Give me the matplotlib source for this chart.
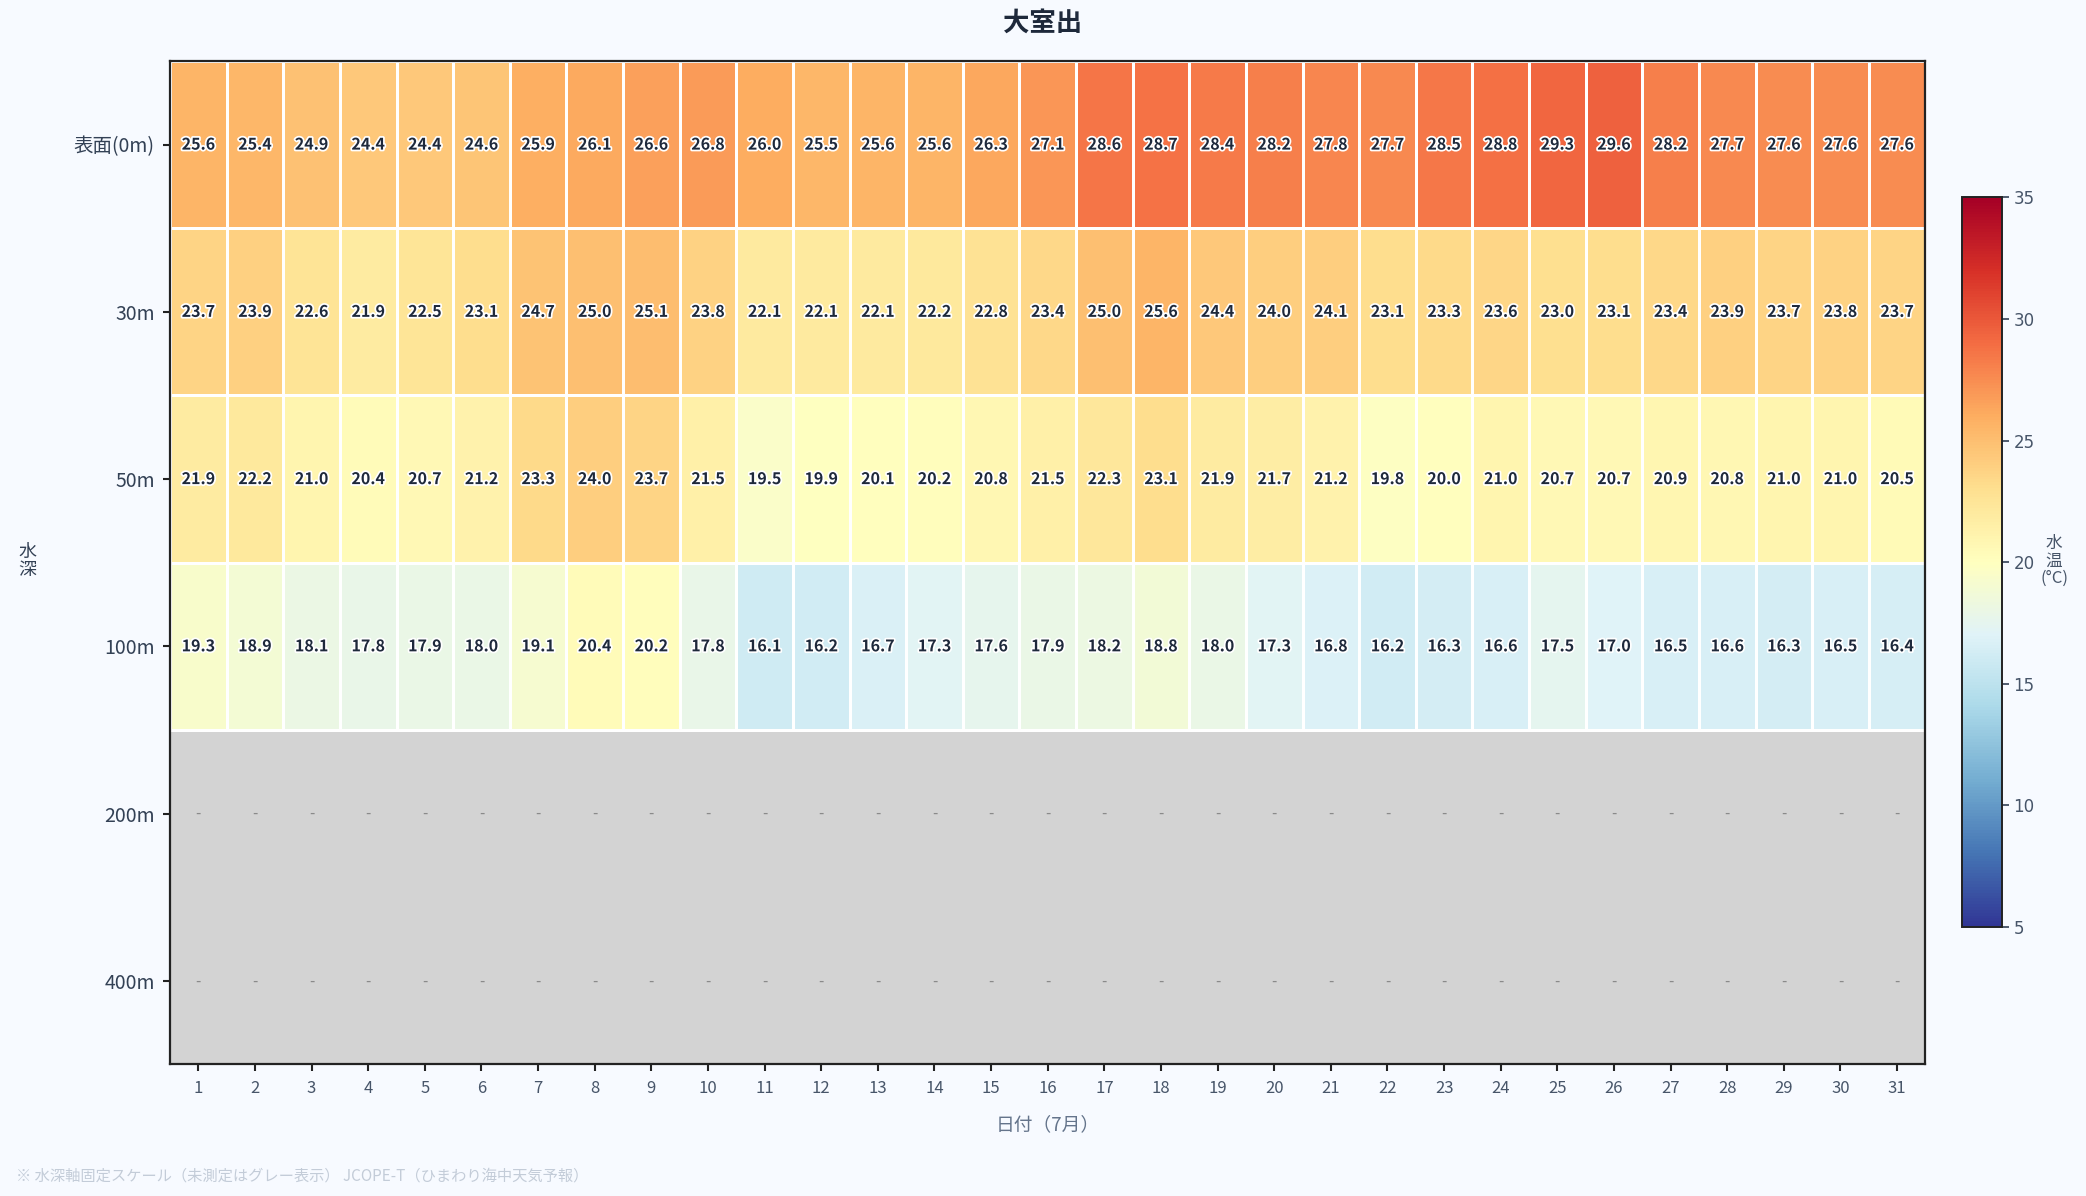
import matplotlib
matplotlib.use("Agg")
import matplotlib.pyplot as plt
import matplotlib.patheffects as pe
import numpy as np

plt.rcParams["font.family"] = ["Noto Sans CJK JP", "DejaVu Sans"]

days = list(range(1, 32))
depth_labels = ["表面(0m)", "30m", "50m", "100m", "200m", "400m"]

temp_0m = [25.6, 25.4, 24.9, 24.4, 24.4, 24.6, 25.9, 26.1, 26.6, 26.8,
           26.0, 25.5, 25.6, 25.6, 26.3, 27.1, 28.6, 28.7, 28.4, 28.2,
           27.8, 27.7, 28.5, 28.8, 29.3, 29.6, 28.2, 27.7, 27.6, 27.6, 27.6]
temp_30m = [23.7, 23.9, 22.6, 21.9, 22.5, 23.1, 24.7, 25.0, 25.1, 23.8,
            22.1, 22.1, 22.1, 22.2, 22.8, 23.4, 25.0, 25.6, 24.4, 24.0,
            24.1, 23.1, 23.3, 23.6, 23.0, 23.1, 23.4, 23.9, 23.7, 23.8, 23.7]
temp_50m = [21.9, 22.2, 21.0, 20.4, 20.7, 21.2, 23.3, 24.0, 23.7, 21.5,
            19.5, 19.9, 20.1, 20.2, 20.8, 21.5, 22.3, 23.1, 21.9, 21.7,
            21.2, 19.8, 20.0, 21.0, 20.7, 20.7, 20.9, 20.8, 21.0, 21.0, 20.5]
temp_100m = [19.3, 18.9, 18.1, 17.8, 17.9, 18.0, 19.1, 20.4, 20.2, 17.8,
             16.1, 16.2, 16.7, 17.3, 17.6, 17.9, 18.2, 18.8, 18.0, 17.3,
             16.8, 16.2, 16.3, 16.6, 17.5, 17.0, 16.5, 16.6, 16.3, 16.5, 16.4]
temp_200m = [np.nan] * 31
temp_400m = [np.nan] * 31

TEXT = "#1e293b"
BG = "#f7faff"


def main():
    grid = np.array([temp_0m, temp_30m, temp_50m, temp_100m, temp_200m, temp_400m], dtype=float)
    # rows that have any measurement (unmeasured depths stay as the grey axes background)
    measured = ~np.all(np.isnan(grid), axis=1)
    n_meas = int(measured.sum())

    fig = plt.figure(figsize=(20.86, 11.96), dpi=100, facecolor=BG)
    ax = fig.add_axes([0.0815, 0.110, 0.8415, 0.839])
    cax = fig.add_axes([0.9405, 0.225, 0.019, 0.610])

    ax.set_facecolor("#d3d3d3")
    x_edges = np.arange(len(days) + 1) + 0.5
    y_edges = np.arange(n_meas + 1)
    mesh = ax.pcolormesh(x_edges, y_edges, grid[measured], cmap="RdYlBu_r", vmin=5, vmax=35,
                         edgecolors="white", linewidth=2)
    ax.set_xlim(0.5, len(days) + 0.5)
    ax.set_ylim(len(depth_labels), 0)

    for i in range(grid.shape[0]):
        for j, d in enumerate(days):
            v = grid[i, j]
            if np.isnan(v):
                ax.text(d, i + 0.5, "-", ha="center", va="center", fontsize=11, color="#8a8a8a")
            else:
                ax.text(d, i + 0.5, f"{v:.1f}", ha="center", va="center", fontsize=11.5,
                        fontweight="bold", color=TEXT,
                        path_effects=[pe.withStroke(linewidth=2.5, foreground="white")])

    ax.set_xticks(days)
    ax.set_xticklabels([str(d) for d in days], fontsize=12, color="#475569")
    ax.set_yticks(np.arange(len(depth_labels)) + 0.5)
    ax.set_yticklabels(depth_labels, fontsize=14, color="#334155")
    ax.tick_params(axis="both", length=5, width=1.5, color="#222222")
    ax.tick_params(axis="x", pad=6)
    ax.tick_params(axis="y", pad=6)
    for spine in ax.spines.values():
        spine.set_color("#222222")
        spine.set_linewidth(1.6)

    ax.set_xlabel("日付（7月）", fontsize=13.5, color="#64748b")
    ax.xaxis.set_label_coords(0.5, -0.050)
    # stacked vertical labels, written as plain figure text
    fig.text(0.013, 0.531, "水\n深", rotation=0, fontsize=13, color="#334155",
             ha="center", va="center", linespacing=1.05)

    fig.suptitle("大室出", x=0.5, y=0.992, fontsize=19, fontweight="bold", color=TEXT)

    cb = fig.colorbar(mesh, cax=cax)
    cb.set_ticks([5, 10, 15, 20, 25, 30, 35])
    cb.ax.tick_params(labelsize=12, color="#334155", length=5, width=1.2, labelcolor="#475569")
    for lab in cb.ax.get_yticklabels():
        lab.set_fontfamily("DejaVu Sans")
    cb.outline.set_edgecolor("#222222")
    cb.outline.set_linewidth(1.4)
    fig.text(0.9847, 0.531, "水\n温\n(°C)", rotation=0, fontsize=12, color="#475569",
             ha="center", va="center", linespacing=1.0)

    fig.text(0.0077, 0.010, "※ 水深軸固定スケール（未測定はグレー表示） JCOPE-T（ひまわり海中天気予報）",
             fontsize=11, color="#c3ccd8", ha="left", va="bottom")

    fig.savefig("out.png", dpi=100, facecolor=BG)


if __name__ == "__main__":
    main()
